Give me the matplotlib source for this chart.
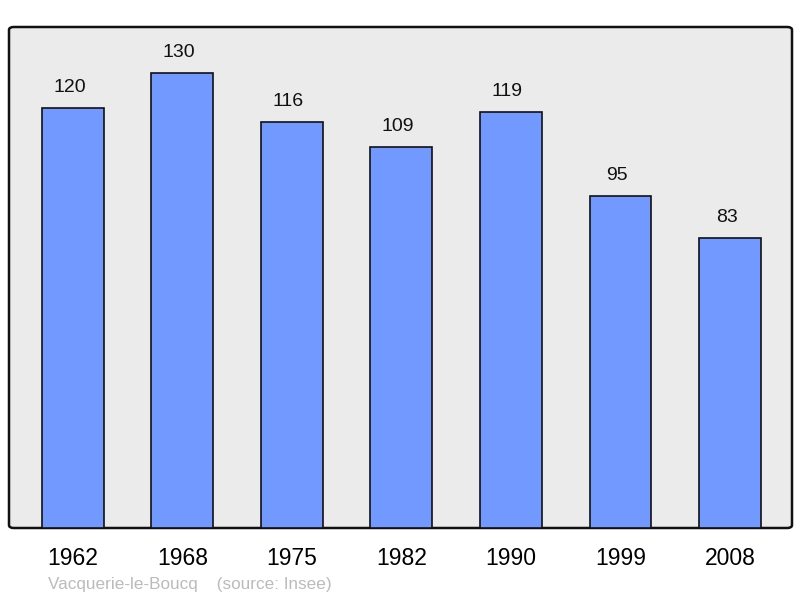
import matplotlib
matplotlib.use("Agg")
import matplotlib.pyplot as plt
from matplotlib.patches import FancyBboxPatch

years = ["1962", "1968", "1975", "1982", "1990", "1999", "2008"]
population = [120, 130, 116, 109, 119, 95, 83]

plt.rcParams['font.family'] = ['Liberation Sans', 'DejaVu Sans']

fig = plt.figure(figsize=(8, 5.98), dpi=100)
W, H = 800, 598
ax = fig.add_axes([9 / W, (H - 528) / H, 783 / W, 501 / H])
ax.set_facecolor('none')
ax.set_xlim(-0.584, 6.566)
ax.set_ylim(0, 501 / 3.5)

# background with rounded corners
bg = FancyBboxPatch((0, 0), 1, 1, boxstyle="round,pad=0,rounding_size=0.006",
                    transform=ax.transAxes, facecolor='#ebebeb', edgecolor='#111111',
                    linewidth=1.8, zorder=0, clip_on=False)
ax.add_patch(bg)

x = list(range(len(years)))
ax.bar(x, population, width=0.566, color='#7199ff', edgecolor='#111111',
       linewidth=1.2, zorder=2)
for xi, v in zip(x, population):
    ax.text(xi - 0.032, v + 5.8, str(v), ha='center', va='center', fontsize=14, color='#111111')

for s in ax.spines.values():
    s.set_visible(False)
ax.set_xticks(x)
ax.set_xticklabels(years, fontsize=16.5)
ax.tick_params(axis='x', length=0, pad=14)
ax.set_yticks([])

fig.text(48 / W, 1 - 585 / H, "Vacquerie-le-Boucq    (source: Insee)", fontsize=12.3,
         color='#bbbbbb', ha='left', va='center')

fig.savefig("out.png", dpi=100)
